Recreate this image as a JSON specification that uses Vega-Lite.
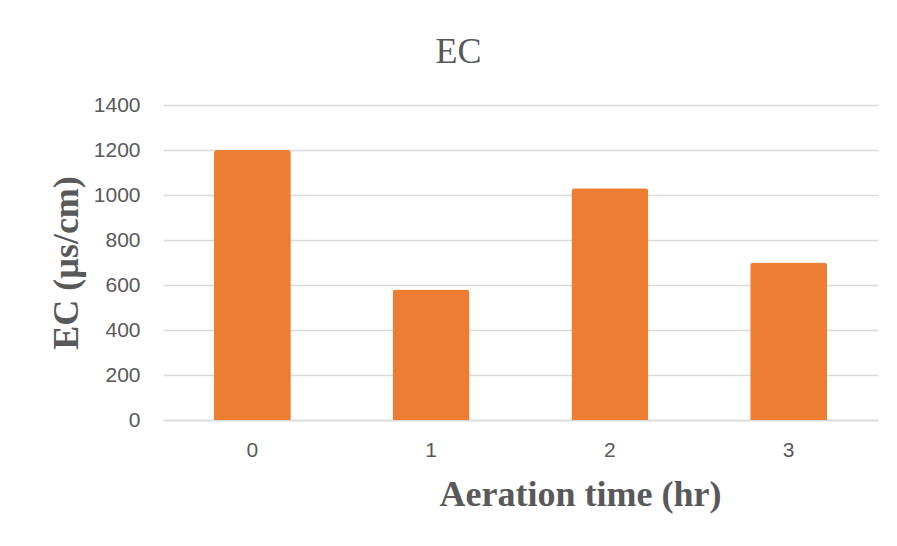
{
  "$schema": "https://vega.github.io/schema/vega-lite/v6.json",
  "autosize": {"type": "none"},
  "width": 715,
  "height": 315,
  "padding": {"left": 163, "top": 105, "right": 19, "bottom": 126},
  "background": "white",
  "title": {
    "text": "EC",
    "font": "Liberation Serif",
    "fontSize": 36,
    "fontWeight": "normal",
    "color": "#595959",
    "baseline": "alphabetic",
    "offset": -5,
    "dx": -62
  },
  "data": {
    "values": [
      {"time": "0", "ec": 1200},
      {"time": "1", "ec": 580},
      {"time": "2", "ec": 1030},
      {"time": "3", "ec": 700}
    ]
  },
  "mark": {"type": "bar", "color": "#ED7D31", "cornerRadiusTopLeft": 3, "cornerRadiusTopRight": 3},
  "encoding": {
    "x": {
      "field": "time",
      "type": "ordinal",
      "scale": {"paddingInner": 0.57, "paddingOuter": 0.285},
      "axis": {
        "title": "Aeration time (hr)",
        "titleFont": "Liberation Serif",
        "titleFontSize": 36,
        "titleFontWeight": "bold",
        "titleColor": "#595959",
        "titleX": 417,
        "titleY": 85,
        "titleAlign": "center",
        "titleBaseline": "alphabetic",
        "labelAngle": 0,
        "labelFont": "Liberation Sans",
        "labelFontSize": 21,
        "labelColor": "#595959",
        "labelPadding": 19,
        "ticks": false,
        "domainColor": "#d9d9d9",
        "domainWidth": 1.5,
        "grid": false
      }
    },
    "y": {
      "field": "ec",
      "type": "quantitative",
      "scale": {"domain": [0, 1400], "nice": false},
      "axis": {
        "title": "EC (µs/cm)",
        "titleFont": "Liberation Serif",
        "titleFontSize": 36,
        "titleFontWeight": "bold",
        "titleColor": "#595959",
        "titleAngle": -90,
        "titleX": -86,
        "titleY": 157.5,
        "titleAlign": "center",
        "titleBaseline": "alphabetic",
        "values": [0, 200, 400, 600, 800, 1000, 1200, 1400],
        "format": "d",
        "labelFont": "Liberation Sans",
        "labelFontSize": 21,
        "labelColor": "#595959",
        "labelPadding": 23,
        "ticks": false,
        "domain": false,
        "gridColor": "#d9d9d9",
        "gridWidth": 1.5
      }
    }
  },
  "config": {"view": {"stroke": null}}
}
